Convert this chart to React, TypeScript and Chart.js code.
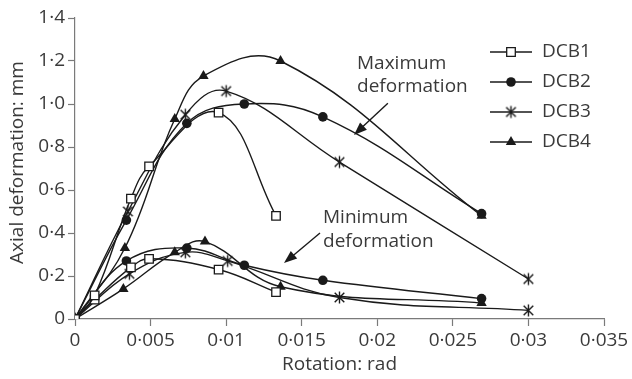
import React, { useEffect, useRef } from "react";
import { Chart, registerables } from "chart.js";

Chart.register(...registerables);

// ---- Data ----
const seriesNames = ["DCB1", "DCB2", "DCB3", "DCB4"];

const dcb1MaxX = [0, 0.0013, 0.0037, 0.0049, 0.0095, 0.0133];
const dcb1MaxY = [0, 0.11, 0.56, 0.71, 0.96, 0.48];
const dcb1MinX = [0, 0.0013, 0.0037, 0.0049, 0.0095, 0.0133];
const dcb1MinY = [0, 0.09, 0.24, 0.28, 0.23, 0.125];

const dcb2MaxX = [0, 0.0034, 0.0074, 0.0112, 0.0164, 0.0269];
const dcb2MaxY = [0, 0.46, 0.91, 1.0, 0.94, 0.49];
const dcb2MinX = [0, 0.0034, 0.0074, 0.0112, 0.0164, 0.0269];
const dcb2MinY = [0, 0.27, 0.33, 0.25, 0.18, 0.095];

const dcb3MaxX = [0, 0.0035, 0.0073, 0.01, 0.0175, 0.03];
const dcb3MaxY = [0, 0.5, 0.95, 1.06, 0.73, 0.186];
const dcb3MinX = [0, 0.0036, 0.0073, 0.0101, 0.0175, 0.03];
const dcb3MinY = [0, 0.21, 0.31, 0.27, 0.1, 0.04];

const dcb4MaxX = [0, 0.0033, 0.0066, 0.0085, 0.0136, 0.0269];
const dcb4MaxY = [0, 0.33, 0.93, 1.13, 1.2, 0.48];
const dcb4MinX = [0, 0.0032, 0.0066, 0.0086, 0.0136, 0.0269];
const dcb4MinY = [0, 0.14, 0.31, 0.36, 0.15, 0.074];

const xTitle = "Rotation: rad";
const yTitle = "Axial deformation: mm";
const maxLabel = ["Maximum", "deformation"];
const minLabel = ["Minimum", "deformation"];

const FONT = "'Open Sans', sans-serif";
const TEXT = "#3a3a3a";
const LINE = "#1a1a1a";
const AXIS = "#7a7a7a";
const FS = 19;

function makeStar(): HTMLCanvasElement {
  const c = document.createElement("canvas");
  c.width = 15;
  c.height = 15;
  const g = c.getContext("2d")!;
  g.strokeStyle = LINE;
  g.lineWidth = 1.4;
  const m = 7.5, r = 6;
  g.beginPath();
  g.moveTo(m, m - r); g.lineTo(m, m + r);
  g.moveTo(m - r * 0.8, m - r * 0.8); g.lineTo(m + r * 0.8, m + r * 0.8);
  g.moveTo(m + r * 0.8, m - r * 0.8); g.lineTo(m - r * 0.8, m + r * 0.8);
  g.stroke();
  return c;
}

function pts(xs: number[], ys: number[]) {
  return xs.map((x, i) => ({ x, y: ys[i] }));
}

function fmt(v: number, dec: number) {
  if (Math.abs(v) < 1e-12) return "0";
  let s = v.toFixed(dec);
  if (dec > 1) s = String(parseFloat(s));
  return s.replace(".", "\u00B7");
}

function drawMarker(ctx: CanvasRenderingContext2D, kind: number, x: number, y: number, star: HTMLCanvasElement) {
  ctx.save();
  ctx.strokeStyle = LINE;
  ctx.fillStyle = LINE;
  ctx.lineWidth = 1.3;
  if (kind === 0) {
    ctx.fillStyle = "#fff";
    ctx.beginPath();
    ctx.rect(x - 4.3, y - 4.3, 8.6, 8.6);
    ctx.fill();
    ctx.stroke();
  } else if (kind === 1) {
    ctx.beginPath();
    ctx.arc(x, y, 4.8, 0, Math.PI * 2);
    ctx.fill();
  } else if (kind === 2) {
    ctx.drawImage(star, x - 7.5, y - 7.5);
  } else {
    const r = 6;
    ctx.beginPath();
    ctx.moveTo(x, y - r);
    ctx.lineTo(x + r * 0.866, y + r * 0.5);
    ctx.lineTo(x - r * 0.866, y + r * 0.5);
    ctx.closePath();
    ctx.fill();
  }
  ctx.restore();
}

function arrow(ctx: CanvasRenderingContext2D, x1: number, y1: number, x2: number, y2: number) {
  const ang = Math.atan2(y2 - y1, x2 - x1);
  const L = 13, W = 5;
  ctx.save();
  ctx.strokeStyle = LINE;
  ctx.fillStyle = LINE;
  ctx.lineWidth = 1.4;
  ctx.beginPath();
  ctx.moveTo(x1, y1);
  ctx.lineTo(x2 - Math.cos(ang) * L * 0.8, y2 - Math.sin(ang) * L * 0.8);
  ctx.stroke();
  ctx.beginPath();
  ctx.moveTo(x2, y2);
  ctx.lineTo(x2 - Math.cos(ang) * L - Math.sin(ang) * W, y2 - Math.sin(ang) * L + Math.cos(ang) * W);
  ctx.lineTo(x2 - Math.cos(ang) * L + Math.sin(ang) * W, y2 - Math.sin(ang) * L - Math.cos(ang) * W);
  ctx.closePath();
  ctx.fill();
  ctx.restore();
}

export default function App() {
  const ref = useRef<HTMLCanvasElement | null>(null);

  useEffect(() => {
    if (!ref.current) return;
    const star = makeStar();
    const styles: any[] = [
      { pointStyle: "rect", pointRadius: 6, pointBackgroundColor: "#fff", pointBorderWidth: 1.3 },
      { pointStyle: "circle", pointRadius: 4.8, pointBackgroundColor: LINE, pointBorderWidth: 0 },
      { pointStyle: star, pointRadius: 7, pointBackgroundColor: LINE, pointBorderWidth: 0 },
      { pointStyle: "triangle", pointRadius: 6, pointBackgroundColor: LINE, pointBorderWidth: 0 },
    ];
    const groups = [
      [pts(dcb1MaxX, dcb1MaxY), pts(dcb1MinX, dcb1MinY)],
      [pts(dcb2MaxX, dcb2MaxY), pts(dcb2MinX, dcb2MinY)],
      [pts(dcb3MaxX, dcb3MaxY), pts(dcb3MinX, dcb3MinY)],
      [pts(dcb4MaxX, dcb4MaxY), pts(dcb4MinX, dcb4MinY)],
    ];
    const datasets: any[] = [];
    groups.forEach((g, i) => {
      g.forEach((data, j) => {
        datasets.push({
          label: seriesNames[i] + (j === 0 ? " max" : " min"),
          data,
          borderColor: LINE,
          borderWidth: 1.4,
          pointBorderColor: LINE,
          tension: 0.4,
          fill: false,
          ...styles[i],
        });
      });
    });

    const overlay = {
      id: "overlay",
      afterDraw(chart: any) {
        const ctx = chart.ctx as CanvasRenderingContext2D;
        const xs = chart.scales.x, ys = chart.scales.y;
        const ca = chart.chartArea;
        ctx.save();
        ctx.font = `${FS}px ${FONT}`;
        ctx.fillStyle = TEXT;
        ctx.textBaseline = "middle";
        // Axis titles
        ctx.textAlign = "center";
        ctx.fillText(xTitle, (ca.left + ca.right) / 2, 365);
        ctx.save();
        ctx.translate(18, (ca.top + ca.bottom) / 2 - 6);
        ctx.rotate(-Math.PI / 2);
        ctx.fillText(yTitle, 0, 0);
        ctx.restore();
        // Annotations
        ctx.textAlign = "left";
        const mx = xs.getPixelForValue(0.01866);
        ctx.fillText(maxLabel[0], mx, ys.getPixelForValue(1.19));
        ctx.fillText(maxLabel[1], mx, ys.getPixelForValue(1.079));
        const nx = xs.getPixelForValue(0.01641);
        ctx.fillText(minLabel[0], nx, ys.getPixelForValue(0.47));
        ctx.fillText(minLabel[1], nx, ys.getPixelForValue(0.358));
        arrow(ctx, xs.getPixelForValue(0.0207), ys.getPixelForValue(1.004), xs.getPixelForValue(0.01846), ys.getPixelForValue(0.856));
        arrow(ctx, xs.getPixelForValue(0.01621), ys.getPixelForValue(0.4), xs.getPixelForValue(0.01383), ys.getPixelForValue(0.26));
        // Legend
        const lx = ca.right - 114;
        seriesNames.forEach((name, i) => {
          const y = ca.top + 34 + i * 30;
          ctx.strokeStyle = LINE;
          ctx.lineWidth = 1.4;
          ctx.beginPath();
          ctx.moveTo(lx, y);
          ctx.lineTo(lx + 42, y);
          ctx.stroke();
          drawMarker(ctx, i, lx + 21, y, star);
          ctx.fillStyle = TEXT;
          ctx.fillText(name, lx + 52, y);
        });
        ctx.restore();
      },
    };

    const chart = new Chart(ref.current, {
      type: "line",
      data: { datasets },
      options: {
        animation: false,
        responsive: false,
        layout: { padding: { left: 0, right: 28, top: 18, bottom: 0 } },
        plugins: { legend: { display: false }, tooltip: { enabled: false } },
        scales: {
          x: {
            type: "linear",
            min: 0,
            max: 0.035,
            afterFit: (s: any) => { s.height = 60; },
            border: { color: AXIS, width: 1.2 },
            grid: { drawOnChartArea: false, drawTicks: true, tickLength: 7, tickColor: AXIS, tickWidth: 1.2 },
            ticks: {
              stepSize: 0.005,
              padding: 3,
              color: TEXT,
              font: { family: FONT, size: FS },
              maxRotation: 0,
              callback: (v: any) => fmt(Number(v), 3),
            },
          },
          y: {
            type: "linear",
            min: 0,
            max: 1.4,
            afterFit: (s: any) => { s.width = 75; },
            border: { color: AXIS, width: 1.2 },
            grid: { drawOnChartArea: false, drawTicks: true, tickLength: 7, tickColor: AXIS, tickWidth: 1.2 },
            ticks: {
              stepSize: 0.2,
              padding: 3,
              color: TEXT,
              font: { family: FONT, size: FS },
              callback: (v: any) => fmt(Number(v), 1),
            },
          },
        },
      },
      plugins: [overlay],
    } as any);
    return () => chart.destroy();
  }, []);

  return (
    <div style={{ position: "fixed", left: 0, top: 0, width: 632, height: 379, background: "#fff" }}>
      <canvas ref={ref} width={632} height={379} style={{ display: "block", width: 632, height: 379 }} />
    </div>
  );
}
